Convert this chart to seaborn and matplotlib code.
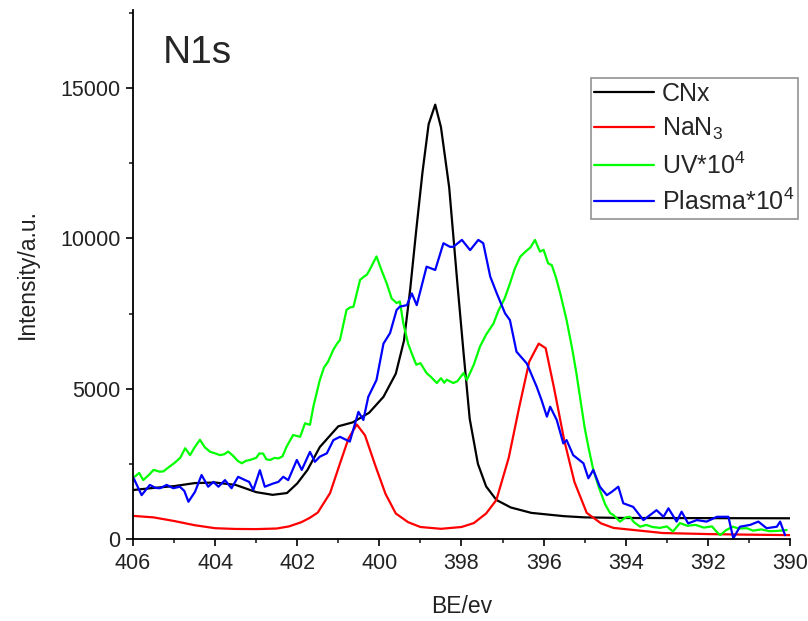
import matplotlib
matplotlib.use("Agg")
import matplotlib.pyplot as plt
import seaborn as sns
from matplotlib.ticker import MultipleLocator

# CNx (black)
cnx_be = [406.0, 405.5, 405.0, 404.5, 404.0, 403.5, 403.0, 402.6, 402.25, 402.0, 401.75, 401.45,
          401.0, 400.65, 400.25, 399.9, 399.6, 399.4, 399.25, 399.1, 398.95, 398.8, 398.64, 398.5,
          398.3, 398.1, 397.95, 397.8, 397.6, 397.4, 397.15, 396.8, 396.3, 395.5, 395.0, 394.0,
          392.0, 390.0]
cnx_int = [1630, 1700, 1760, 1860, 1880, 1800, 1560, 1470, 1530, 1850, 2300, 3060,
           3750, 3880, 4200, 4730, 5500, 6600, 8300, 10300, 12200, 13800, 14450, 13700,
           11700, 8500, 6200, 4000, 2500, 1750, 1300, 1050, 870, 760, 720, 700,
           695, 690]

# NaN3 (red)
nan3_be = [406.0, 405.5, 405.0, 404.5, 404.0, 403.5, 403.0, 402.5, 402.2, 401.9, 401.7, 401.5,
           401.2, 400.95, 400.75, 400.55, 400.35, 400.1, 399.85, 399.6, 399.3, 399.0, 398.5,
           398.0, 397.7, 397.4, 397.15, 396.85, 396.6, 396.35, 396.12, 395.95, 395.75, 395.5,
           395.25, 394.95, 394.6, 394.3, 393.1, 392.0, 391.0, 390.0]
nan3_int = [770, 720, 600, 460, 360, 335, 330, 350, 420, 560, 700, 880,
            1530, 2550, 3350, 3810, 3450, 2450, 1500, 850, 560, 400, 340,
            400, 530, 850, 1300, 2700, 4350, 5900, 6500, 6350, 5050, 3300,
            1900, 870, 520, 370, 200, 165, 145, 130]

# UV*10^4 (green)
uv_be = [405.95, 405.85, 405.75, 405.6, 405.5, 405.35, 405.26, 405.1, 405.0, 404.85, 404.73,
         404.61, 404.5, 404.37, 404.25, 404.12, 404.0, 403.88, 403.78, 403.68, 403.55, 403.45,
         403.35, 403.25, 403.15, 403.0, 402.92, 402.83, 402.75, 402.66, 402.55, 402.46, 402.36,
         402.26, 402.1, 401.93, 401.81, 401.69, 401.6, 401.45, 401.35, 401.25, 401.12, 401.03,
         400.96, 400.8, 400.72, 400.63, 400.47, 400.4, 400.3, 400.2, 400.07, 399.95, 399.82,
         399.7, 399.58, 399.5, 399.42, 399.3, 399.18, 399.1, 399.0, 398.85, 398.75, 398.6,
         398.5, 398.42, 398.36, 398.2, 398.1, 397.95, 397.87, 397.7, 397.55, 397.4, 397.22,
         397.1, 396.95, 396.82, 396.7, 396.57, 396.45, 396.32, 396.21, 396.09, 396.0, 395.89,
         395.8, 395.7, 395.6, 395.44, 395.3, 395.2, 395.11, 395.0, 394.9, 394.79, 394.65,
         394.5, 394.38, 394.3, 394.14, 394.0, 393.9, 393.8, 393.65, 393.5, 393.35, 393.17,
         393.0, 392.85, 392.68, 392.5, 392.3, 392.1, 391.9, 391.8, 391.7, 391.55, 391.39,
         391.25, 391.05, 390.9, 390.7, 390.5, 390.3, 390.08]
uv_int = [2080, 2200, 1960, 2150, 2300, 2240, 2250, 2420, 2520, 2700, 3020,
          2790, 3050, 3300, 3050, 2900, 2850, 2790, 2820, 2910, 2750, 2600,
          2520, 2600, 2630, 2700, 2850, 2840, 2650, 2630, 2700, 2680, 2750,
          3070, 3460, 3400, 3850, 3800, 4450, 5290, 5700, 5900, 6300, 6500,
          6620, 7620, 7700, 7730, 8620, 8700, 8800, 9050, 9400, 8950, 8500,
          8000, 7850, 7900, 7200, 6500, 6060, 5800, 5850, 5520, 5400, 5190,
          5350, 5200, 5300, 5190, 5250, 5520, 5290, 5800, 6400, 6800, 7170,
          7600, 8000, 8500, 9000, 9390, 9550, 9700, 9950, 9560, 9620, 9170,
          9110, 8700, 8200, 7280, 6300, 5500, 4700, 3700, 3000, 2300, 1700,
          1150, 860, 800, 580, 720, 740, 560, 410, 470, 400, 370,
          420, 250, 530, 440, 470, 380, 420, 260, 130, 300, 410,
          350, 360, 280, 320, 260, 270, 300]

# Plasma*10^4 (blue)
plasma_be = [406.0, 405.79, 405.59, 405.45, 405.34, 405.18, 405.02, 404.86, 404.75, 404.65,
             404.49, 404.33, 404.17, 404.04, 403.92, 403.76, 403.6, 403.44, 403.27, 403.17,
             403.07, 402.91, 402.79, 402.58, 402.46, 402.34, 402.22, 402.01, 401.89, 401.69,
             401.57, 401.45, 401.28, 401.12, 400.96, 400.72, 400.51, 400.39, 400.27, 400.07,
             399.9, 399.74, 399.58, 399.5, 399.33, 399.21, 399.09, 398.85, 398.64, 398.44,
             398.28, 398.2, 397.99, 397.79, 397.59, 397.47, 397.3, 397.14, 396.94, 396.82,
             396.66, 396.41, 396.17, 396.05, 395.92, 395.84, 395.68, 395.52, 395.44, 395.28,
             395.03, 394.91, 394.79, 394.63, 394.46, 394.34, 394.18, 394.06, 393.82, 393.57,
             393.25, 393.08, 392.96, 392.76, 392.64, 392.48, 392.27, 392.03, 391.78, 391.5,
             391.38, 391.22, 390.97, 390.77, 390.57, 390.32, 390.24, 390.12]
plasma_int = [2070, 1460, 1800, 1700, 1690, 1800, 1690, 1740, 1600, 1240,
              1570, 2130, 1740, 1900, 1740, 1960, 1690, 2070, 1960, 1900,
              1630, 2290, 1740, 1850, 1900, 2070, 1960, 2630, 2300, 2900,
              2570, 2740, 2850, 3290, 3400, 3240, 4230, 3960, 4730, 5290,
              6500, 6850, 7620, 7730, 7780, 8170, 7780, 9060, 8950, 9840,
              9720, 9720, 9950, 9610, 9950, 9840, 8730, 8170, 7510, 7280,
              6230, 5840, 5070, 4620, 4070, 4400, 3960, 3180, 3290, 2790,
              2520, 2020, 2300, 1740, 1460, 1570, 1740, 1190, 1070, 630,
              960, 740, 1020, 580, 910, 520, 630, 580, 740, 740,
              20, 410, 470, 580, 360, 410, 580, 130]

sns.set_style("ticks")
plt.rcParams['font.family'] = ['Liberation Sans', 'DejaVu Sans']
plt.rcParams['mathtext.fontset'] = 'custom'
plt.rcParams['mathtext.rm'] = 'Liberation Sans'
plt.rcParams['mathtext.it'] = 'Liberation Sans:italic'

fig = plt.figure(figsize=(8.08, 6.21), dpi=100)
ax = fig.add_axes([0.1646, 0.132, 0.8131, 0.852])

lw = 1.6
sns.lineplot(x=cnx_be, y=cnx_int, color="black", lw=lw, ax=ax, label="CNx")
sns.lineplot(x=nan3_be, y=nan3_int, color="#ff0000", lw=lw, ax=ax, label="NaN$_\\mathregular{3}$")
sns.lineplot(x=uv_be, y=uv_int, color="#00ff00", lw=lw, ax=ax, label="UV*10$^\\mathregular{4}$")
sns.lineplot(x=plasma_be, y=plasma_int, color="#0000ff", lw=lw, ax=ax, label="Plasma*10$^\\mathregular{4}$")

ax.set_xlim(406, 390)
ax.set_ylim(0, 17600)
ax.xaxis.set_major_locator(MultipleLocator(2))
ax.xaxis.set_minor_locator(MultipleLocator(1))
ax.yaxis.set_major_locator(MultipleLocator(5000))
ax.yaxis.set_minor_locator(MultipleLocator(2500))
ax.tick_params(which="major", direction="out", length=5, width=1.2, labelsize=15.5,
               colors="black", labelcolor="#222222")
ax.tick_params(which="minor", direction="out", length=3, width=1.2)
ax.tick_params(axis="y", pad=4)
ax.tick_params(axis="x", pad=5)

for side in ["top", "right"]:
    ax.spines[side].set_visible(False)
for side in ["left", "bottom"]:
    ax.spines[side].set_linewidth(1.3)
    ax.spines[side].set_color("black")

ax.set_xlabel("BE/ev", fontsize=16.5, labelpad=15, color="#222222")
ax.set_ylabel("Intensity/a.u.", fontsize=16.5, labelpad=15, color="#222222")

ax.text(0.045, 0.952, "N1s", transform=ax.transAxes, fontsize=28, va="top", ha="left")

leg = ax.legend(loc="upper right", bbox_to_anchor=(0.9876, 0.874), bbox_transform=fig.transFigure,
                fontsize=18, frameon=True, fancybox=False, edgecolor="#777777",
                borderaxespad=0, borderpad=0.15, handlelength=2.4, handletextpad=0.3,
                labelspacing=0.4)
leg.get_frame().set_linewidth(1.2)

fig.savefig("out.png", dpi=100)
